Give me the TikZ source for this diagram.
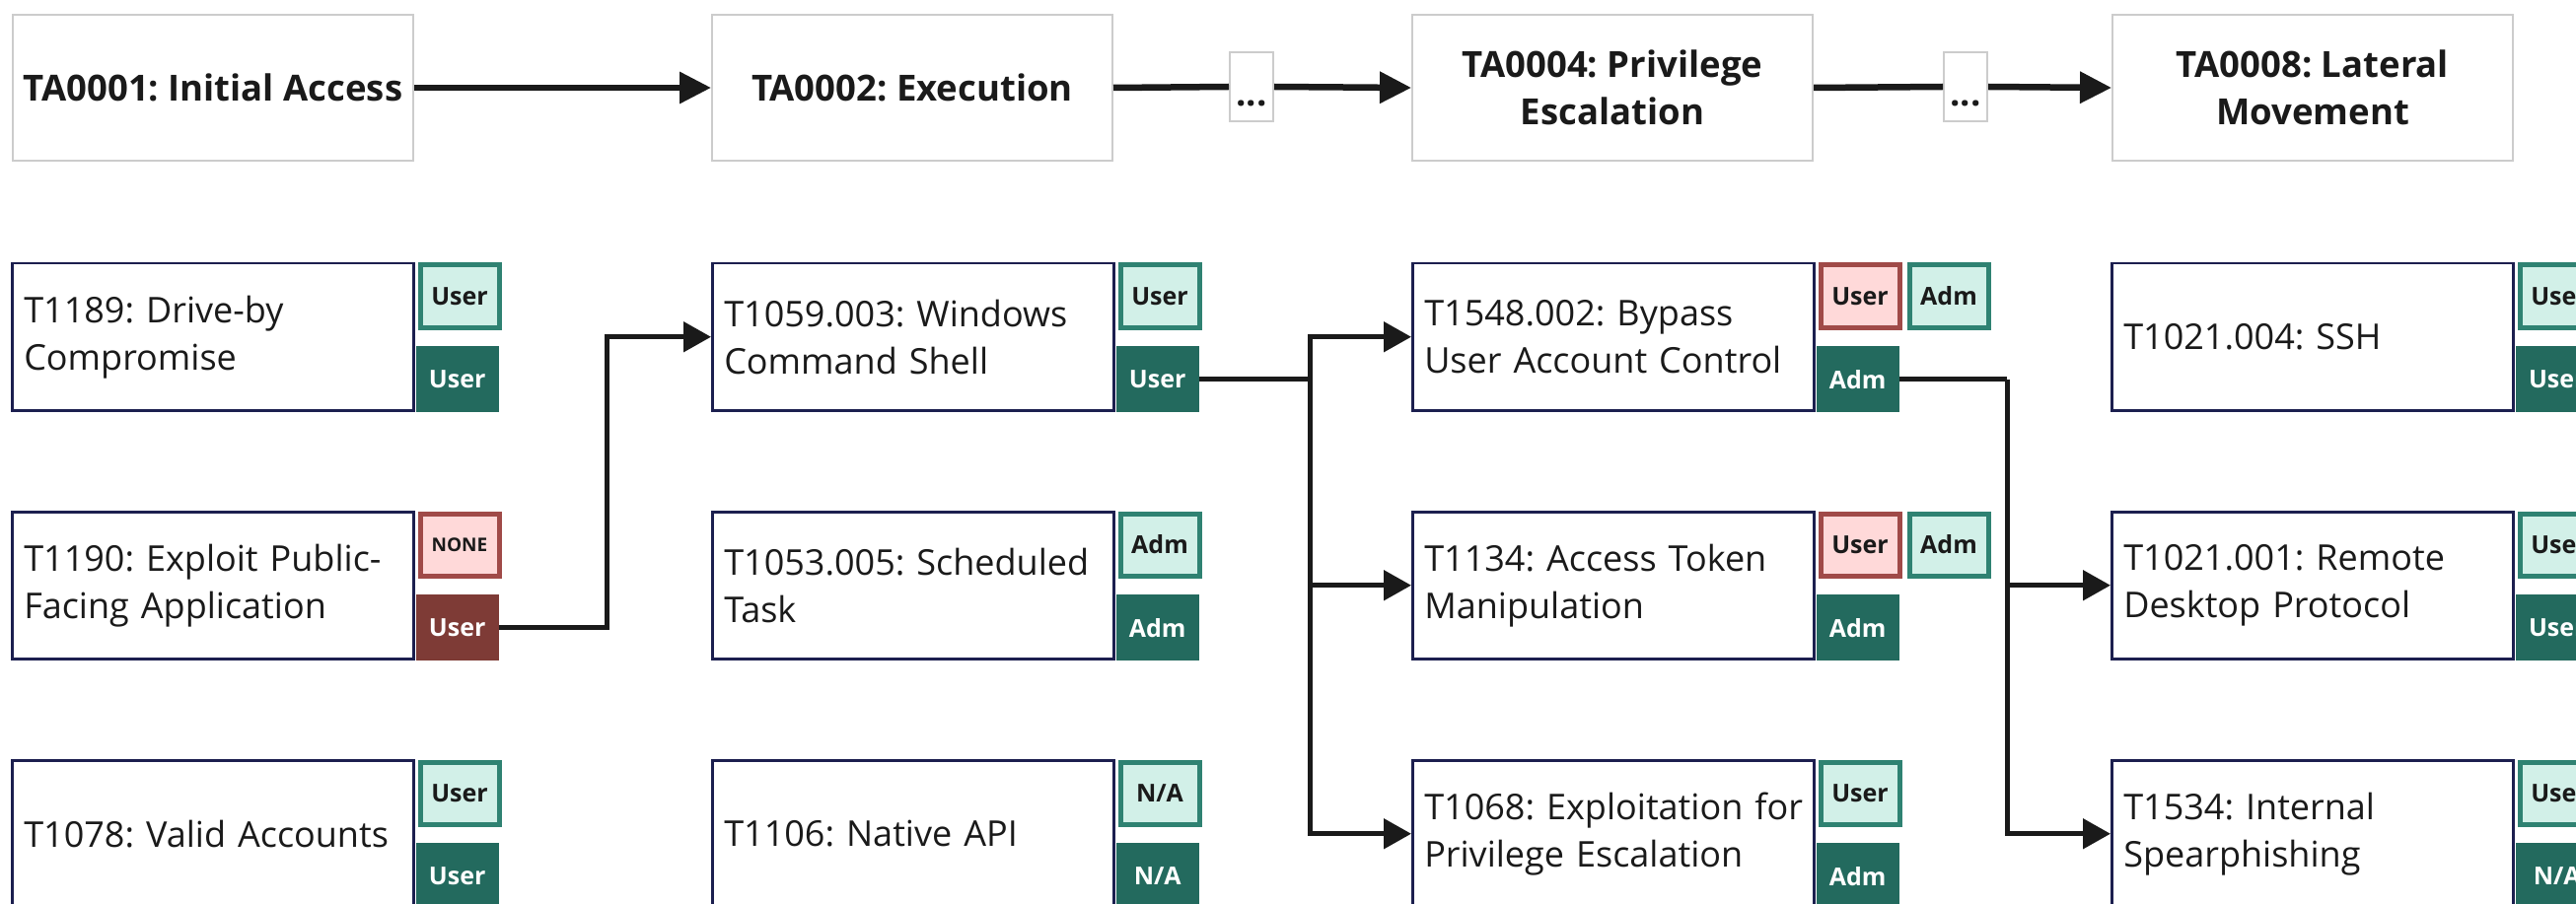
\documentclass[tikz,border=0pt]{standalone}
\usepackage{fontspec}
\setmainfont{Open Sans}
\usetikzlibrary{arrows.meta,calc}

\definecolor{tealfill}{HTML}{D2F0E8}
\definecolor{tealedge}{HTML}{2F8272}
\definecolor{tealdark}{HTML}{236A5E}
\definecolor{redfill}{HTML}{FFD9D9}
\definecolor{rededge}{HTML}{A04A48}
\definecolor{reddark}{HTML}{7E3B36}
\definecolor{navy}{HTML}{1C1F4F}
\definecolor{framegray}{HTML}{CCCCCC}
\definecolor{ink}{HTML}{1A1A1A}

\begin{document}
\frenchspacing
\begin{tikzpicture}[x=1pt,y=-1pt,
  tactic/.style={draw=framegray, line width=2pt, fill=white,
    minimum width=406pt, minimum height=148pt, inner sep=0pt,
    align=center, text=ink, font=\fontsize{36.5}{48}\selectfont\bfseries},
  gap/.style={draw=framegray, line width=2pt, fill=white,
    minimum width=44pt, minimum height=70pt, inner sep=0pt,
    text height=40pt, text depth=0pt, text=ink,
    font=\fontsize{36.5}{48}\selectfont\bfseries},
  tech/.style={draw=navy, line width=2.5pt, fill=white,
    minimum width=407pt, minimum height=149pt, inner xsep=12pt, inner ysep=0pt,
    text width=383pt, align=left, text=ink,
    font=\fontsize{36}{48}\selectfont},
  badge/.style={inner sep=0pt, font=\fontsize{25}{28}\selectfont\bfseries},
  privL/.style={badge, fill=tealfill, draw=tealedge, line width=5pt,
    minimum width=80pt, minimum height=63pt, text=ink},
  privR/.style={badge, fill=redfill, draw=rededge, line width=5pt,
    minimum width=80pt, minimum height=63pt, text=ink},
  privD/.style={badge, fill=tealdark, minimum width=84pt, minimum height=67pt, text=white},
  privRD/.style={badge, fill=reddark, minimum width=84pt, minimum height=67pt, text=white},
  tflow/.style={draw=ink, line width=6.5pt, -{Triangle[length=32pt,width=31pt]}},
  tline/.style={draw=ink, line width=6.5pt},
  flow/.style={draw=ink, line width=5pt, line join=miter, -{Triangle[length=28pt,width=30pt]}},
  fline/.style={draw=ink, line width=5pt}
]
\useasboundingbox (0,0) rectangle (2612,917);

% ---------- tactics ----------
\node[tactic, anchor=north west] (ta1) at (12,14)   {TA0001: Initial Access};
\node[tactic, anchor=north west] (ta2) at (721,14)  {TA0002: Execution};
\node[tactic, anchor=north west] (ta4) at (1431,14) {TA0004: Privilege\\Escalation};
\node[tactic, anchor=north west] (ta8) at (2141,14) {TA0008: Lateral\\Movement};
\node[gap] (g1) at (1269,88) {...};
\node[gap] (g2) at (1993,88) {...};

\draw[tflow] (ta1.east) -- (ta2.west);
\draw[tline] (ta2.east) -- (g1.west);
\draw[tflow] (g1.east) -- (ta4.west);
\draw[tline] (ta4.east) -- (g2.west);
\draw[tflow] (g2.east) -- (ta8.west);

% ---------- techniques: column 1 ----------
\node[tech, anchor=north west] (t11) at (11,266) {\mbox{T1189: Drive-by}\\\mbox{Compromise}};
\node[tech, anchor=north west] (t12) at (11,518) {\mbox{T1190: Exploit Public-}\\\mbox{Facing Application}};
\node[tech, anchor=north west] (t13) at (11,770) {\mbox{T1078: Valid Accounts}};

% ---------- column 2 ----------
\node[tech, anchor=north west] (t21) at (721,266) {\mbox{T1059.003: Windows}\\\mbox{Command Shell}};
\node[tech, anchor=north west] (t22) at (721,518) {\mbox{T1053.005: Scheduled}\\\mbox{Task}};
\node[tech, anchor=north west] (t23) at (721,770) {\mbox{T1106: Native API}};

% ---------- column 3 ----------
\node[tech, anchor=north west] (t31) at (1431,266) {\mbox{T1548.002: Bypass}\\\mbox{User Account Control}};
\node[tech, anchor=north west] (t32) at (1431,518) {\mbox{T1134: Access Token}\\\mbox{Manipulation}};
\node[tech, anchor=north west] (t33) at (1431,770) {\mbox{T1068: Exploitation for}\\\mbox{Privilege Escalation}};

% ---------- column 4 ----------
\node[tech, anchor=north west] (t41) at (2140,266) {\mbox{T1021.004: SSH}};
\node[tech, anchor=north west] (t42) at (2140,518) {\mbox{T1021.001: Remote}\\\mbox{Desktop Protocol}};
\node[tech, anchor=north west] (t43) at (2140,770) {\mbox{T1534: Internal}\\\mbox{Spearphishing}};

% ---------- privilege badges (required above, obtained below) ----------
\node[privL, anchor=north west] (b11u) at ([xshift=3pt,yshift=-0.5pt]t11.north east) {User};
\node[privD, anchor=south west, yshift=-1pt] (b11d) at ([xshift=1pt]t11.south east) {User};
\node[privR, anchor=north west] (b12u) at ([xshift=3pt,yshift=-0.5pt]t12.north east) {\fontsize{19}{22}\selectfont NONE};
\node[privRD, anchor=south west, yshift=-1pt] (b12d) at ([xshift=1pt]t12.south east) {User};
\node[privL, anchor=north west] (b13u) at ([xshift=3pt,yshift=-0.5pt]t13.north east) {User};
\node[privD, anchor=south west, yshift=-1pt] (b13d) at ([xshift=1pt]t13.south east) {User};

\node[privL, anchor=north west] (b21u) at ([xshift=3pt,yshift=-0.5pt]t21.north east) {User};
\node[privD, anchor=south west, yshift=-1pt] (b21d) at ([xshift=1pt]t21.south east) {User};
\node[privL, anchor=north west] (b22u) at ([xshift=3pt,yshift=-0.5pt]t22.north east) {Adm};
\node[privD, anchor=south west, yshift=-1pt] (b22d) at ([xshift=1pt]t22.south east) {Adm};
\node[privL, anchor=north west] (b23u) at ([xshift=3pt,yshift=-0.5pt]t23.north east) {N/A};
\node[privD, anchor=south west, yshift=-1pt] (b23d) at ([xshift=1pt]t23.south east) {N/A};

\node[privR, anchor=north west] (b31u) at ([xshift=3pt,yshift=-0.5pt]t31.north east) {User};
\node[privL, anchor=west] (b31a) at ([xshift=5pt]b31u.east) {Adm};
\node[privD, anchor=south west, yshift=-1pt] (b31d) at ([xshift=1pt]t31.south east) {Adm};
\node[privR, anchor=north west] (b32u) at ([xshift=3pt,yshift=-0.5pt]t32.north east) {User};
\node[privL, anchor=west] (b32a) at ([xshift=5pt]b32u.east) {Adm};
\node[privD, anchor=south west, yshift=-1pt] (b32d) at ([xshift=1pt]t32.south east) {Adm};
\node[privL, anchor=north west] (b33u) at ([xshift=3pt,yshift=-0.5pt]t33.north east) {User};
\node[privD, anchor=south west, yshift=-1pt] (b33d) at ([xshift=1pt]t33.south east) {Adm};

\node[privL, anchor=north west] (b41u) at ([xshift=3pt,yshift=-0.5pt]t41.north east) {User};
\node[privD, anchor=south west, yshift=-1pt] (b41d) at ([xshift=1pt]t41.south east) {User};
\node[privL, anchor=north west] (b42u) at ([xshift=3pt,yshift=-0.5pt]t42.north east) {User};
\node[privD, anchor=south west, yshift=-1pt] (b42d) at ([xshift=1pt]t42.south east) {User};
\node[privL, anchor=north west] (b43u) at ([xshift=3pt,yshift=-0.5pt]t43.north east) {User};
\node[privD, anchor=south west, yshift=-1pt] (b43d) at ([xshift=1pt]t43.south east) {N/A};

% ---------- attack path ----------
\coordinate (j0) at (615,0);
\coordinate (j1) at (1328,0);
\coordinate (j2) at (2035,0);

\draw[flow] (b12d.east) -- (b12d.east -| j0) |- (t21.west);

\draw[fline] (b21d.east) -- (b21d.east -| j1);
\draw[flow] (b21d.east -| j1) |- (t31.west);
\draw[flow] (b21d.east -| j1) |- (t32.west);
\draw[flow] (b21d.east -| j1) |- (t33.west);

\draw[fline] (b31d.east) -- (b31d.east -| j2);
\draw[flow] (b31d.east -| j2) |- (t42.west);
\draw[flow] (b31d.east -| j2) |- (t43.west);
\end{tikzpicture}
\end{document}
